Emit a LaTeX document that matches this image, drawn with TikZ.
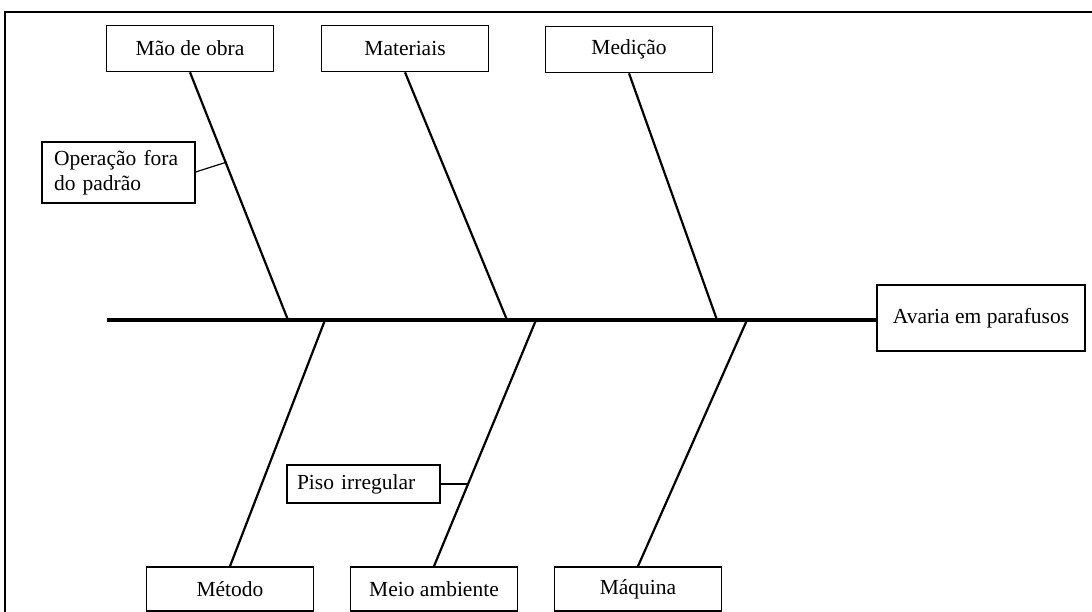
\documentclass[tikz,border=0pt]{standalone}
\usepackage{fontspec}
\setmainfont{Liberation Serif}
\begin{document}
\begin{tikzpicture}[x=1pt,y=-1pt,
    cause/.style={draw,line width=1.6pt,minimum width=167pt,minimum height=46pt,inner sep=0pt,font=\fontsize{21.5}{25}\selectfont},
    note/.style={draw,line width=1.2pt,inner sep=0pt,font=\fontsize{21.5}{25}\selectfont},
    bone/.style={line width=2.2pt},
    spine/.style={line width=3.5pt}]
    \useasboundingbox (0,0) rectangle (1092,612);

    % Outer frame
    \draw[line width=1.6pt] (5,612) -- (5,12) -- (1092,12);

    % Effect box and spine
    \node[draw,line width=1.6pt,minimum width=208pt,minimum height=66pt,inner sep=0pt,
          font=\fontsize{21.5}{25}\selectfont] (efeito) at (981,318) {Avaria em parafusos};
    \coordinate (cauda) at (107,320);
    \draw[spine] (cauda) -- (cauda -| efeito.west);

    % Joints on the spine
    \coordinate (j1) at (288,320);
    \coordinate (j2) at (507,320);
    \coordinate (j3) at (717,320);
    \coordinate (k1) at (325,320);
    \coordinate (k2) at (536,320);
    \coordinate (k3) at (747,320);

    % Upper causes
    \node[cause] (mao) at (190,48.5) {Mão de obra};
    \node[cause] (mat) at (405,48.5) {Materiais};
    \node[cause] (med) at (629,49.5) {Medição};
    \draw[bone] (mao.south) -- (j1);
    \draw[bone] (mat.south) -- (j2);
    \draw[bone] (med.south) -- (j3);

    % Lower causes
    \node[cause,minimum height=44pt] (met) at (230,589) {Método};
    \node[cause,minimum height=44pt] (meio) at (434,589) {Meio ambiente};
    \node[cause,minimum height=44pt] (maq) at (638,589) {Máquina};
    \draw[bone] (met.north) -- (k1);
    \draw[bone] (meio.north) -- (k2);
    \draw[bone] (maq.north) -- (k3);

    % Sub-causes
    \node[note,minimum width=153pt,minimum height=61pt,align=left,text width=129pt] (op) at (118.5,172.5)
        {Operação fora\\do padrão};
    \coordinate (c1) at (227,162);
    \draw[line width=1.2pt] (op.east |- 0,172) -- (c1);

    \node[note,minimum width=153pt,minimum height=38pt,align=left,text width=133pt] (piso) at (363.5,484)
        {Piso irregular};
    \coordinate (c2) at (469,484);
    \draw[line width=1.2pt] (piso.east) -- (c2);
\end{tikzpicture}
\end{document}
